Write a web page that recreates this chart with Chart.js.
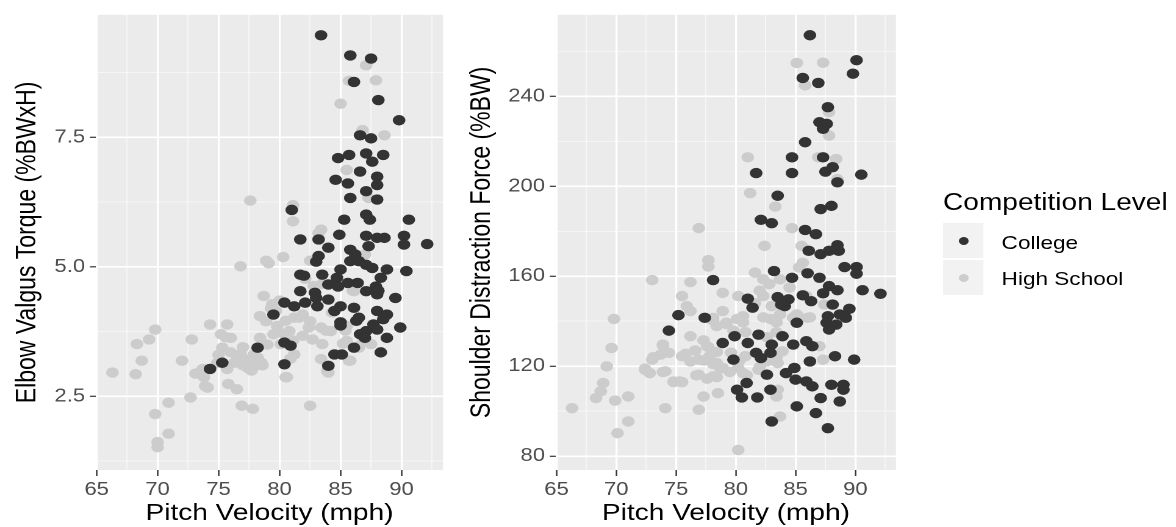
<!DOCTYPE html>
<html>
<head>
<meta charset="utf-8">
<script src="https://cdn.jsdelivr.net/npm/chart.js@4.4.1/dist/chart.umd.min.js"></script>
<style>
  html, body { margin: 0; padding: 0; background: #fff; overflow: hidden; }
  /* the reference is a stretched ggplot export, so draw narrow and stretch */
  #stage { position: absolute; left: 0; top: 0; width: 964px; height: 527px;
           transform: scaleX(1.22); transform-origin: 0 0;
           font-family: "Liberation Sans", Arial, sans-serif; }
  .panel { position: absolute; top: 0; width: 370px; height: 527px; }
  #leftPanel { left: 0; }
  #rightPanel { left: 372px; }
  .lg { position: absolute; white-space: nowrap; color: #000; }
  .ltitle { left: 773px; top: 191px; font-size: 23px; line-height: 23px; }
  .lkey { left: 773px; width: 33px; height: 35px; background: #F2F2F2; }
  .ldot { left: 785.6px; width: 8px; height: 8px; border-radius: 50%; }
  .llab { left: 821px; font-size: 18.5px; line-height: 18.5px; }
</style>
</head>
<body>
<div id="stage">
  <div class="panel" id="leftPanel"><canvas id="elbowChart"></canvas></div>
  <div class="panel" id="rightPanel"><canvas id="shoulderChart"></canvas></div>

  <div class="lg ltitle">Competition Level</div>
  <div class="lg lkey" style="top:222.7px"></div>
  <div class="lg lkey" style="top:260px"></div>
  <div class="lg ldot" style="top:236.7px;background:#333333"></div>
  <div class="lg ldot" style="top:274.3px;background:#CCCCCC"></div>
  <div class="lg llab" style="top:234px">College</div>
  <div class="lg llab" style="top:270px">High School</div>
</div>

<script>
// ---- data ----
const levels = ['College', 'High School'];

// elbow valgus torque panel
const elbowCollegeVelo = [83.4,85.8,87.5,86.1,88.1,89.8,86.6,87.5,84.8,85.7, 87.1,88.5,87.6,86.6,88.0,84.6,85.6,88.0,87.1,88.0,
  85.8,81.0,87.1,87.4,85.3,90.6,84.9,81.7,83.2,87.1, 88.0,88.6,90.2,90.2,92.1,87.3,84.0,85.8,86.2,85.8,
  86.5,83.2,87.1,87.6,88.8,90.4,85.0,83.5,81.7,84.7, 85.6,86.4,88.3,87.9,84.0,84.8,87.1,88.0,82.9,89.5,
  84.0,80.4,81.2,82.1,83.1,85.0,86.1,88.0,88.8,84.5, 88.5,86.3,85.0,87.7,89.9,88.0,87.1,86.6,88.8,79.5,
  80.4,78.2,75.3,74.3,80.4,84.0,84.5,85.1,86.1,88.3, 81.7,82.0,83.0,86.5,87.0,88.1,85.0,80.9,83.0];
const elbowCollegeTorque = [9.47,9.08,9.02,8.57,8.22,7.83,7.54,7.48,7.10,7.16, 7.19,7.16,7.03,6.84,6.74,6.68,6.61,6.58,6.46,6.30,
  6.33,6.10,6.01,5.91,5.91,5.91,5.62,5.53,5.53,5.60, 5.56,5.56,5.60,5.43,5.44,5.40,5.37,5.33,5.24,5.11,
  5.11,5.21,5.04,4.98,4.95,4.92,4.95,4.85,4.85,4.79, 4.69,4.69,4.79,4.62,4.66,4.62,4.53,4.47,4.50,4.40,
  4.37,4.31,4.24,4.31,4.24,4.24,4.21,4.15,4.08,4.15, 3.99,3.96,3.93,3.89,3.83,3.79,3.76,3.70,3.63,4.08,
  3.54,3.44,3.15,3.03,3.12,3.09,3.31,3.31,3.44,3.35, 4.53,4.83,4.40,4.02,3.63,4.54,3.87,3.48,5.10];
const elbowHSVelo = [87.1,87.9,85.7,85.0,86.8,88.6,85.5,87.3,77.6,81.1, 81.1,83.4,76.8,78.9,80.3,82.5,87.0,86.1,82.8,78.7,
  79.4,78.4,78.9,79.8,81.2,81.9,82.5,83.4,84.2,85.5, 80.8,81.9,82.7,83.5,85.5,86.5,87.5,85.8,83.4,83.9,
  80.6,82.5,79.5,80.1,81.2,78.4,77.9,77.5,77.1,78.0, 76.8,76.3,75.7,75.2,76.0,75.3,75.7,74.9,74.3,73.7,
  73.1,73.8,74.1,72.8,72.0,72.7,75.8,76.5,76.9,77.8, 69.8,69.3,68.3,68.7,68.2,66.3,70.9,69.8,70.9,70.0,
  70.0,86.9,79.1,83.2,82.1,83.5,86.0,84.3,79.7,80.5, 81.6,82.4,81.1,80.3,83.8,85.2,86.5,85.7,84.0,80.5,
  80.9,85.4,80.0,77.4,78.5,77.0,78.2,79.3,73.9,75.0, 75.6,76.5,77.7,78.6,76.0,79.0,77.0];
const elbowHSTorque = [8.89,8.60,8.59,8.15,7.64,7.54,6.87,6.33,6.28,6.19, 5.88,5.72,5.01,5.12,5.19,5.12,5.24,4.53,4.63,4.44,
  4.28,4.05,3.95,3.86,4.02,4.08,3.95,3.83,3.76,3.86, 3.76,3.67,3.60,3.51,3.57,3.47,3.51,3.19,3.22,2.99,
  2.87,2.32,3.70,3.51,3.31,3.63,3.31,3.12,3.22,3.09, 3.31,3.15,3.89,3.70,3.63,3.44,3.03,3.15,3.89,3.03,
  2.94,2.87,2.67,3.60,3.19,2.48,2.74,2.64,2.32,2.26, 3.79,3.60,3.51,3.19,2.93,2.96,2.38,2.16,1.78,1.62,
  1.52,3.57,5.07,5.65,4.77,4.67,4.54,4.12,4.15,3.96, 4.02,3.83,3.58,3.71,3.77,3.52,3.44,3.19,2.96,2.87,
  3.23,3.77,4.35,3.05,3.15,3.10,3.25,4.20,2.70,3.30, 3.64,3.20,3.00,3.10,3.35,3.50,3.45];

// shoulder distraction force panel
const shoulderCollegeVelo = [86.2,90.1,89.8,85.6,86.9,87.7,87.0,87.6,87.3,85.8, 84.7,87.3,81.7,84.7,87.5,88.1,90.5,88.5,83.5,88.0,
  87.1,82.1,83.0,85.8,86.7,88.5,88.6,86.1,87.1,87.8, 89.1,90.1,90.1,83.2,86.0,84.7,87.0,78.1,90.6,92.1,
  87.8,88.5,85.6,87.3,86.3,83.5,84.4,83.8,84.1,81.0, 81.4,89.5,88.1,88.7,87.7,89.2,87.6,88.4,87.8,85.1,
  75.2,77.4,74.4,78.9,79.9,81.9,83.0,83.9,84.8,85.9, 86.4,81.0,81.7,82.1,82.9,79.8,86.2,88.3,89.9,84.2,
  84.9,82.6,80.9,80.1,80.5,81.8,82.9,85.0,86.4,88.0, 89.0,89.0,88.7,87.1,85.1,86.7,83.0,87.7,85.9];
const shoulderCollegeForce = [267.2,256.1,250.1,248.2,246.0,235.2,228.5,227.8,225.6,219.6, 212.9,212.9,205.9,205.9,206.5,208.5,205.2,201.8,195.8,191.3,
  189.9,185.1,183.6,180.6,178.7,173.8,171.3,171.3,169.8,171.3, 164.1,164.1,161.1,162.3,161.3,159.3,159.3,158.3,153.8,152.2,
  155.6,153.8,151.5,152.4,148.9,150.7,149.7,147.4,146.7,150.0, 146.0,145.5,147.4,143.0,142.2,141.5,139.3,138.5,136.3,139.3,
  142.7,141.5,135.8,130.3,133.3,134.0,129.6,133.3,129.6,131.1, 128.9,130.3,125.9,123.6,125.9,122.9,122.1,124.4,122.9,116.9,
  119.2,116.2,112.5,109.5,106.1,106.1,109.5,114.0,111.0,111.7, 111.7,109.5,104.3,105.8,102.1,99.1,95.4,92.4,113.2];
const shoulderHSVelo = [85.1,87.3,85.8,87.8,87.8,86.9,88.4,81.0,88.5,81.2, 83.3,84.7,76.9,82.4,85.5,77.7,77.7,85.6,73.0,76.2,
  81.6,82.3,83.7,75.5,75.9,76.2,78.9,78.9,78.1,78.4, 79.2,80.2,80.6,82.3,83.0,83.7,85.1,86.0,87.4,85.9,
  87.0,87.3,69.8,69.6,69.2,68.9,68.7,68.3,69.9,66.3, 71.0,71.0,70.1,72.4,72.8,73.0,73.7,73.9,74.4,74.1,
  74.1,74.8,75.3,75.5,76.2,76.2,76.9,77.6,77.8,78.4, 78.1,76.9,77.3,76.9,78.5,78.9,80.2,80.2,80.6,81.9,
  82.6,83.5,83.9,83.5,83.4,83.7,84.8,79.6,80.8,77.3, 81.6,82.9,
  78.1,79.2,80.1,80.6,79.8,80.8,82.3,83.4,84.8,83.4, 82.6,82.0,82.8,84.5,85.3,86.2,73.9,73.1,72.4,73.9,
  74.8,75.5,75.8,76.6,77.7,78.4,77.3,78.1,78.7,76.7, 77.6,78.4,80.3,79.5,80.9,82.0,83.4];
const shoulderHSForce = [254.9,255.0,244.9,233.0,222.6,212.9,212.2,212.9,203.2,197.0, 191.0,181.4,181.4,173.5,173.5,167.2,164.3,166.0,158.3,157.4,
  161.6,158.6,158.6,151.2,146.7,144.5,152.6,144.5,141.5,137.8, 139.3,151.2,142.2,151.2,146.7,143.0,143.0,141.5,147.4,151.2,
  128.9,122.9,141.0,128.1,119.9,112.5,108.8,105.8,104.7,101.3, 106.5,95.4,90.2,118.4,116.9,122.9,125.1,129.6,125.9,117.7,
  101.3,113.2,113.2,124.4,133.3,122.1,122.9,128.8,124.4,121.4, 115.5,116.2,106.5,100.6,108.0,119.2,82.7,119.2,116.9,118.4,
  122.1,121.4,126.6,109.5,106.5,97.6,141.5,126.0,124.5,131.5, 148.0,141.0,
  140.3,138.8,141.0,139.5,135.8,135.1,141.7,139.5,141.7,135.1, 132.9,153.6,156.5,155.0,163.9,141.7,129.2,124.0,118.9,117.4,
  112.9,112.9,125.5,127.0,128.5,126.3,122.5,121.0,118.9,115.9, 114.4,115.1,122.5,117.4,115.9,119.6,124.0];

// axis ticks
const veloMajorTicks = [65, 70, 75, 80, 85, 90];
const veloMinorTicks = [67.5, 72.5, 77.5, 82.5, 87.5, 92.5];
const elbowMajorTicks = [2.5, 5, 7.5];
const elbowTickLabels = ['2.5', '5.0', '7.5'];
const elbowMinorTicks = [1.25, 3.75, 6.25, 8.75];
const shoulderMajorTicks = [80, 120, 160, 200, 240];
const shoulderMinorTicks = [100, 140, 180, 220, 260];

const collegeColor = '#333333';
const hsColor = '#CCCCCC';
const FONT = '"Liberation Sans", Arial, sans-serif';

function pairs(xs, ys) {
  return xs.map((x, i) => ({x: x, y: ys[i]}));
}

const panelBg = {
  id: 'panelBg',
  beforeDraw(chart) {
    const a = chart.chartArea;
    const ctx = chart.ctx;
    ctx.save();
    ctx.fillStyle = '#EBEBEB';
    ctx.fillRect(a.left, a.top, a.right - a.left, a.bottom - a.top);
    ctx.restore();
  }
};

function makeAxis(o) {
  const all = o.majors.concat(o.minors).sort((a, b) => a - b);
  const isMajor = v => o.majors.indexOf(v) >= 0;
  return {
    type: 'linear',
    min: o.min,
    max: o.max,
    afterBuildTicks: s => { s.ticks = all.map(v => ({value: v})); },
    afterFit: s => { if (o.width) s.width = o.width; if (o.height) s.height = o.height; },
    ticks: {
      autoSkip: false,
      maxRotation: 0,
      padding: o.tickPad,
      color: '#4D4D4D',
      font: {family: FONT, size: 18},
      callback: v => isMajor(v) ? (o.labels ? o.labels[o.majors.indexOf(v)] : String(v)) : ''
    },
    grid: {
      color: c => (c.tick && isMajor(c.tick.value)) ? '#FFFFFF' : 'rgba(255,255,255,0.7)',
      lineWidth: c => (c.tick && isMajor(c.tick.value)) ? 1.6 : 0.8,
      tickColor: c => (c.tick && isMajor(c.tick.value)) ? '#333333' : 'rgba(0,0,0,0)',
      tickWidth: 1.2,
      tickLength: o.tickLen
    },
    border: {display: false},
    title: {
      display: true,
      text: o.title,
      color: '#000000',
      font: {family: FONT, size: 23, lineHeight: 1},
      padding: o.titlePad
    }
  };
}

function drawPanel(canvasId, yTitle, collegeData, hsData, yOpts, axisWidth, rightPad) {
  new Chart(document.getElementById(canvasId), {
    type: 'scatter',
    data: {
      datasets: [
        {label: levels[0], data: collegeData, backgroundColor: collegeColor},
        {label: levels[1], data: hsData, backgroundColor: hsColor}
      ]
    },
    options: {
      responsive: true,
      maintainAspectRatio: false,
      animation: false,
      devicePixelRatio: 2,
      layout: {padding: {top: 13, right: rightPad, left: 0, bottom: 0}},
      elements: {point: {radius: 5.2, borderWidth: 0, hoverRadius: 5.2}},
      plugins: {legend: {display: false}, tooltip: {enabled: false}},
      scales: {
        x: makeAxis({min: 64.95, max: 93.4, majors: veloMajorTicks, minors: veloMinorTicks,
          height: 57, tickLen: 6, tickPad: 3, title: 'Pitch Velocity (mph)', titlePad: {top: 0, bottom: 2}}),
        y: makeAxis(Object.assign({width: axisWidth, tickLen: 5, tickPad: 4, title: yTitle}, yOpts))
      }
    },
    plugins: [panelBg]
  });
}

drawPanel('elbowChart', 'Elbow Valgus Torque (%BWxH)',
  pairs(elbowCollegeVelo, elbowCollegeTorque), pairs(elbowHSVelo, elbowHSTorque),
  {min: 1.08, max: 9.865, majors: elbowMajorTicks, minors: elbowMinorTicks, labels: elbowTickLabels,
   titlePad: {top: 11, bottom: 0}}, 78.7, 6.9);

drawPanel('shoulderChart', 'Shoulder Distraction Force (%BW)',
  pairs(shoulderCollegeVelo, shoulderCollegeForce), pairs(shoulderHSVelo, shoulderHSForce),
  {min: 73.8, max: 276.3, majors: shoulderMajorTicks, minors: shoulderMinorTicks,
   titlePad: {top: 11.6, bottom: 0}}, 83.7, 7.6);
</script>
</body>
</html>
